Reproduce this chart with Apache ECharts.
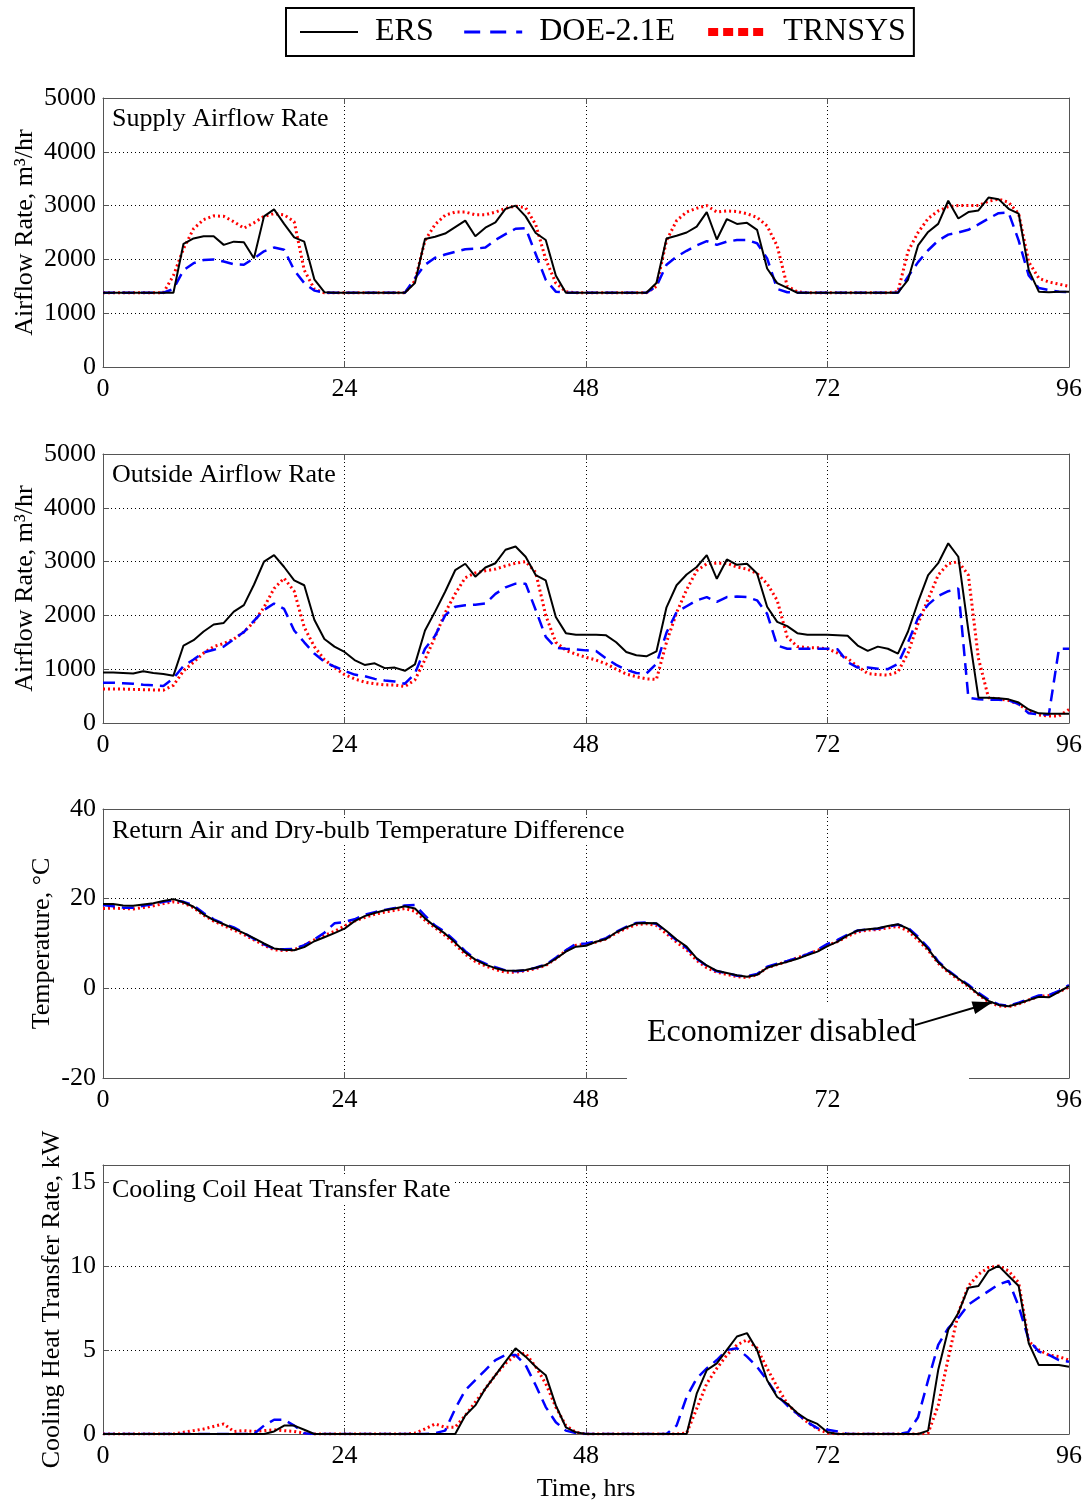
<!DOCTYPE html>
<html><head><meta charset="utf-8">
<script src="https://cdn.jsdelivr.net/npm/echarts@6/dist/echarts.min.js"></script>
<style>html,body{margin:0;padding:0;background:#fff}#c{width:1089px;height:1502px}</style>
</head><body><div id="c"></div>
<script>
const hours = Array.from({length: 97}, (_, i) => i);
const xTicks = {min: 0, max: 96, interval: 24};

// Panel 1: Supply airflow rate (m3/hr)
const supplyERS = [1380,1380,1380,1380,1380,1380,1380,1380,
  2290,2390,2430,2430,2270,2330,2320,2020,2800,2930,2660,2410,2330,1630,1390,
  1380,1380,1380,1380,1380,1380,1380,1380,
  1560,2380,2420,2480,2600,2720,2430,2590,2690,2940,3000,2800,2490,2360,1700,1380,
  1380,1380,1380,1380,1380,1380,1380,1380,
  1560,2390,2440,2500,2610,2880,2370,2750,2660,2680,2550,1830,1560,1470,1380,
  1380,1380,1380,1380,1380,1380,1380,1380,1380,1380,
  1620,2260,2510,2660,3090,2760,2880,2910,3150,3120,2940,2850,1800,1400,1390,1400,1400];
const supplyDOE = [1380,1380,1380,1380,1380,1380,1380,
  1450,1800,1930,1990,2000,1960,1910,1900,2020,2150,2220,2180,1800,1560,1420,1380,
  1380,1380,1380,1380,1380,1380,1380,
  1380,1650,1900,2030,2090,2140,2190,2200,2220,2360,2470,2570,2580,2100,1620,1400,1380,
  1380,1380,1380,1380,1380,1380,1380,1380,
  1500,1900,2050,2160,2260,2340,2270,2330,2360,2360,2300,2020,1450,1390,1380,
  1380,1380,1380,1380,1380,1380,1380,1380,1380,1380,
  1680,1950,2170,2350,2460,2500,2550,2650,2760,2860,2870,2350,1700,1470,1430,1400,1390];
const supplyTRN = [1380,1380,1380,1380,1380,1380,1380,
  1700,2200,2570,2740,2810,2800,2700,2580,2680,2800,2850,2830,2700,1800,1450,1380,
  1380,1380,1380,1380,1380,1380,1380,1380,
  1600,2350,2650,2820,2880,2880,2830,2830,2880,2950,2990,2960,2650,2000,1560,1400,
  1380,1380,1380,1380,1380,1380,1380,1380,
  1500,2350,2720,2880,2950,3000,2880,2900,2890,2850,2780,2620,2250,1500,1400,
  1380,1380,1380,1380,1380,1380,1380,1380,1380,
  1400,2150,2500,2760,2900,2980,3000,3000,3000,3080,3120,3060,2850,1950,1650,1580,1540,1500];

// Panel 2: Outside airflow rate (m3/hr)
const outsideERS = [940,940,930,920,960,930,910,880,1440,1540,1700,1830,1860,2070,2190,2570,3000,3120,2900,2650,
  2560,1920,1560,1420,1320,1170,1080,1110,1020,1030,970,1090,1720,2070,2440,2840,2960,2720,2890,2970,
  3220,3280,3090,2750,2650,1970,1670,1640,1640,
  1640,1630,1500,1320,1260,1240,1330,2150,2560,2760,2900,3120,2680,3040,2940,2960,2780,2160,1880,1800,
  1670,1640,1640,1640,1630,1620,1440,1340,1420,1380,1290,1700,2250,2750,2970,3340,3090,1720,470,470,
  460,440,380,250,180,170,170,170];
const outsideDOE = [750,750,740,730,710,700,690,830,1060,1180,1310,1360,1420,1560,1690,1900,2100,2220,2120,1720,
  1500,1290,1140,1050,970,900,870,820,790,770,730,920,1380,1620,2000,2160,2190,2200,2220,2400,
  2520,2590,2590,2100,1600,1400,1380,1370,1350,
  1340,1200,1080,990,930,920,1100,1680,2060,2170,2280,2340,2250,2340,2350,2340,2280,2030,1440,1380,
  1380,1380,1380,1380,1370,1130,1030,1030,1010,1000,1100,1500,1950,2200,2360,2450,2500,470,440,430,
  430,420,350,180,160,160,1380,1380];
const outsideTRN = [630,630,630,625,620,615,610,700,970,1130,1300,1420,1480,1560,1690,1880,2150,2500,2690,2450,
  1780,1420,1180,1030,900,820,760,730,710,705,680,800,1180,1600,2050,2400,2700,2790,2830,2860,
  2920,2970,3000,2800,2000,1500,1350,1280,1220,
  1170,1100,1000,910,860,820,810,1500,2050,2480,2830,2960,2970,2970,2900,2860,2780,2590,2280,1600,
  1420,1400,1400,1380,1300,1200,1050,920,900,890,950,1300,1850,2300,2750,2960,3000,2750,1200,470,
  450,420,350,220,150,130,130,250];

// Panel 3: Return air and dry-bulb temperature difference (°C)
const tempERS = [18.8,18.8,18.5,18.4,18.7,19.0,19.5,19.9,19.2,18.2,16.5,15.2,14.3,13.3,12.3,11.2,10.0,8.9,8.6,8.5,
  9.2,10.5,11.4,12.3,13.3,15.0,16.1,16.8,17.4,17.8,18.3,17.8,15.6,13.8,12.2,10.2,8.0,6.4,5.3,4.5,
  4.0,3.9,4.1,4.6,5.2,6.6,8.2,9.3,9.5,10.4,
  11.0,12.5,13.6,14.5,14.6,14.5,12.8,10.9,9.3,6.7,5.1,3.9,3.4,2.9,2.6,3.0,4.6,5.3,5.9,6.6,
  7.4,8.2,9.4,10.4,11.8,12.9,13.2,13.4,13.9,14.3,13.3,11.2,8.8,5.8,3.8,2.2,0.6,-1.3,-2.8,-3.7,
  -4.0,-3.4,-2.6,-1.9,-2.0,-0.8,0.5];
const tempDOE = [18.6,18.3,18.0,18.0,18.4,18.8,19.3,19.6,19.3,18.5,16.8,15.4,14.4,13.6,12.4,11.0,9.8,8.8,8.7,8.8,
  9.6,10.9,12.4,14.5,14.8,15.4,16.4,17.0,17.5,17.9,18.5,18.6,16.2,14.0,12.6,10.5,8.3,6.5,5.5,4.7,
  4.0,3.8,4.0,4.6,5.3,6.8,8.5,9.9,10.0,10.5,
  11.2,12.6,13.7,14.6,14.7,14.4,12.6,10.7,9.0,6.6,5.0,3.8,3.4,2.8,2.7,3.2,4.8,5.5,6.1,6.8,
  7.6,8.6,9.9,10.8,12.0,12.9,13.1,13.3,13.8,14.2,13.5,11.5,9.1,6.0,4.0,2.3,0.8,-1.0,-2.5,-3.6,
  -3.9,-3.2,-2.4,-1.6,-1.5,-0.6,0.7];
const tempTRN = [17.8,17.9,17.8,17.7,18.0,18.4,18.9,19.3,19.0,18.0,16.3,15.0,14.0,13.0,12.0,10.8,9.6,8.6,8.4,8.6,
  9.6,10.8,11.8,12.7,13.9,15.0,15.8,16.5,17.0,17.4,17.8,17.2,15.2,13.5,11.8,9.8,7.6,6.0,5.0,4.2,
  3.6,3.6,3.9,4.4,5.1,6.6,8.4,9.6,9.8,10.3,
  11.0,12.3,13.4,14.2,14.4,14.0,12.2,10.3,8.6,6.2,4.6,3.6,3.1,2.6,2.4,3.0,4.6,5.3,6.0,6.8,
  7.6,8.4,9.6,10.4,11.6,12.6,13.0,13.1,13.5,13.8,12.8,10.8,8.5,5.6,3.6,2.0,0.4,-1.4,-3.0,-3.9,
  -4.1,-3.5,-2.6,-1.8,-1.6,-0.8,0.3];

// Panel 4: Cooling coil heat transfer rate (kW)
const coilERS = [0,0,0,0,0,0,0,0,0,0,0,0,0,0,0,0,0,
  0.15,0.5,0.5,0.25,0,
  0,0,0,0,0,0,0,0,0,0,0,0,0,0,
  1.1,1.7,2.7,3.5,4.3,5.1,4.6,4.0,3.5,1.7,0.4,0.1,
  0,0,0,0,0,0,0,0,0,0,0,
  2.4,3.8,4.2,5.0,5.8,6.0,5.0,3.2,2.2,1.8,1.25,0.85,0.6,0.1,
  0,0,0,0,0,0,0,0,0,
  0.2,3.8,6.2,7.2,8.7,8.8,9.7,10.0,9.4,8.8,5.4,4.1,4.1,4.1,4.0];
const coilDOE = [0,0,0,0,0,0,0,0,0,0,0,0,0,0,0,
  0,0.5,0.85,0.85,0.5,0.05,0,
  0,0,0,0,0,0,0,0,0,0,0,
  0.05,0.2,1.5,2.6,3.2,3.8,4.4,4.7,4.7,4.1,2.9,1.6,0.7,0.2,0.05,
  0,0,0,0,0,0,0,0,0,
  0.5,2.2,3.3,3.9,4.4,5.0,5.1,4.6,4.0,3.2,2.3,1.7,1.2,0.7,0.35,0.25,0.15,
  0,0,0,0,0,0,
  0.1,1.0,3.2,5.3,6.3,6.9,7.7,8.1,8.5,8.9,9.1,7.6,5.6,4.9,4.7,4.4,4.3];
const coilTRN = [0,0,0,0,0,0,0,0,
  0.1,0.2,0.3,0.45,0.6,0.15,0.2,0.15,0.2,0.25,0.2,0.15,0.05,
  0,0,0,0,0,0,0,0,0,0,
  0.05,0.3,0.6,0.4,0.4,1.1,1.9,2.7,3.5,4.2,4.7,4.8,4.0,3.0,1.6,0.5,0.1,
  0,0,0,0,0,0,0,0,0,0,
  0.05,1.5,3.0,3.9,4.7,5.3,5.6,5.1,3.9,2.8,1.8,1.2,0.7,0.3,0.05,
  0,0,0,0,0,0,0,0,0,
  0.05,1.7,4.5,7.2,8.8,9.5,9.9,10.0,9.7,9.0,5.5,5.0,4.7,4.6,4.4];

const panelTitles = ['Supply Airflow Rate', 'Outside Airflow Rate',
  'Return Air and Dry-bulb Temperature Difference', 'Cooling Coil Heat Transfer Rate'];
const yNames = ['Airflow Rate, m\u00B3/hr', 'Airflow Rate, m\u00B3/hr', 'Temperature, \u00B0C',
  'Cooling Heat Transfer Rate, kW'];
const yRanges = [{min: 0, max: 5000, interval: 1000}, {min: 0, max: 5000, interval: 1000},
  {min: -20, max: 40, interval: 20}, {min: 0, max: 16, interval: 5}];
const panelData = [
  [supplyERS, supplyDOE, supplyTRN],
  [outsideERS, outsideDOE, outsideTRN],
  [tempERS, tempDOE, tempTRN],
  [coilERS, coilDOE, coilTRN]
];
const seriesNames = ['ERS', 'DOE-2.1E', 'TRNSYS'];
// annotation arrow (data coords of panel 3)
const arrowFrom = [80.7, -8.2];
const arrowTo = [88.4, -3.1];

// ---------------- styles/layout ----------------
const FONT = '"Liberation Serif", "Times New Roman", serif';
const gridTops = [98, 454, 809, 1165];
const yNameGaps = [65, 65, 48, 38];
const titleTops = [106, 462, 818, 1177];
const boxColor = '#555';
const lineStyles = {
  'ERS': {color: '#000000', width: 2, type: 'solid'},
  'DOE-2.1E': {color: '#0000ff', width: 2.5, type: [12, 7]},
  'TRNSYS': {color: '#ff0000', width: 3, type: [2, 3]}
};

const grid = [], xAxis = [], yAxis = [], series = [], title = [];
gridTops.forEach((top, i) => {
  grid.push({left: 103, top: top, width: 966, height: 269, containLabel: false, outerBoundsMode: 'none'});
  const tickStyle = {show: true, inside: true, length: 6, lineStyle: {color: boxColor}};
  const axisLineStyle = {show: true, onZero: false, lineStyle: {color: boxColor, width: 1}};
  xAxis.push({
    type: 'value', gridIndex: i, position: 'bottom', ...xTicks,
    axisLine: axisLineStyle, axisTick: tickStyle,
    axisLabel: {fontSize: 26, fontFamily: FONT, color: '#000', margin: 9, formatter: v => String(v)},
    splitLine: {show: true, lineStyle: {color: '#000', width: 1, type: [1, 3]}},
    name: i === 3 ? 'Time, hrs' : '', nameLocation: 'middle', nameGap: 42, nameMoveOverlap: false,
    nameTextStyle: {fontSize: 26, fontFamily: FONT, color: '#000'}
  });
  xAxis.push({
    type: 'value', gridIndex: i, position: 'top', ...xTicks,
    axisLine: axisLineStyle, axisTick: tickStyle, axisLabel: {show: false}, splitLine: {show: false}
  });
  yAxis.push({
    type: 'value', gridIndex: i, position: 'left', ...yRanges[i],
    axisLine: axisLineStyle, axisTick: tickStyle,
    axisLabel: {fontSize: 26, fontFamily: FONT, color: '#000', margin: 7, showMaxLabel: i !== 3,
      formatter: v => String(v)},
    splitLine: {show: true, lineStyle: {color: '#000', width: 1, type: [1, 3]}},
    name: yNames[i], nameLocation: 'middle', nameRotate: 90, nameGap: yNameGaps[i],
    nameMoveOverlap: false,
    nameTextStyle: {fontSize: 26, fontFamily: FONT, color: '#000'}
  });
  yAxis.push({
    type: 'value', gridIndex: i, position: 'right', ...yRanges[i],
    axisLine: axisLineStyle, axisTick: tickStyle, axisLabel: {show: false}, splitLine: {show: false}
  });
  title.push({
    text: panelTitles[i], left: 110, top: titleTops[i], padding: [0, 2],
    backgroundColor: '#fff',
    textStyle: {fontSize: 26, fontWeight: 'normal', fontFamily: FONT, color: '#000'}
  });
  // draw order: TRNSYS, DOE, ERS on top
  [2, 1, 0].forEach(k => {
    const name = seriesNames[k];
    const s = {
      name: name, type: 'line', xAxisIndex: 2 * i, yAxisIndex: 2 * i,
      data: hours.map((h, j) => [h, panelData[i][k][j]]),
      symbol: 'none', showSymbol: false, lineStyle: lineStyles[name],
      itemStyle: {color: lineStyles[name].color},
      z: 3 + (2 - k), animation: false, clip: true
    };
    if (i === 2 && k === 0) {
      s.markLine = {
        silent: true, symbol: ['none', 'none'],
        label: {show: false},
        lineStyle: {color: '#000', width: 2, type: 'solid'},
        data: [[{coord: arrowFrom}, {coord: arrowTo}]],
        animation: false
      };
      s.markPoint = {
        silent: true, animation: false,
        data: [{coord: arrowTo, symbol: 'triangle', symbolSize: [13, 20],
          symbolRotate: -73.6, symbolOffset: [-9.6, 2.8],
          itemStyle: {color: '#000'}, label: {show: false}}]
      };
    }
    series.push(s);
  });
});

const option = {
  backgroundColor: '#fff',
  animation: false,
  textStyle: {fontFamily: FONT},
  title: title,
  legend: {
    left: 286, top: 8,
    padding: [8, 8, 8, 13],
    borderColor: '#000', borderWidth: 2,
    itemWidth: 58, itemHeight: 16, itemGap: 29,
    itemStyle: {opacity: 0},
    textStyle: {fontSize: 32, fontFamily: FONT, color: '#000', padding: [0, 0, 0, 12]},
    data: [
      {name: 'ERS', itemStyle: {opacity: 0}, lineStyle: {color: '#000', width: 2, type: 'solid'}},
      {name: 'DOE-2.1E', itemStyle: {opacity: 0}, lineStyle: {color: '#0000ff', width: 3, type: [16, 10]}},
      {name: 'TRNSYS', itemStyle: {opacity: 0}, lineStyle: {color: '#ff0000', width: 8, type: [10, 5]}}
    ]
  },
  grid: grid, xAxis: xAxis, yAxis: yAxis, series: series,
  graphic: [
    {type: 'rect', z: 1, shape: {x: 627, y: 1003, width: 342, height: 78},
     style: {fill: '#fff'}, silent: true},
    {type: 'text', z: 10, x: 647, y: 1033,
     style: {text: 'Economizer disabled', fill: '#000', font: '32px ' + FONT, textVerticalAlign: 'middle'}}
  ]
};

const chart = echarts.init(document.getElementById('c'), null, {renderer: 'canvas'});
chart.setOption(option);
</script>
</body></html>
